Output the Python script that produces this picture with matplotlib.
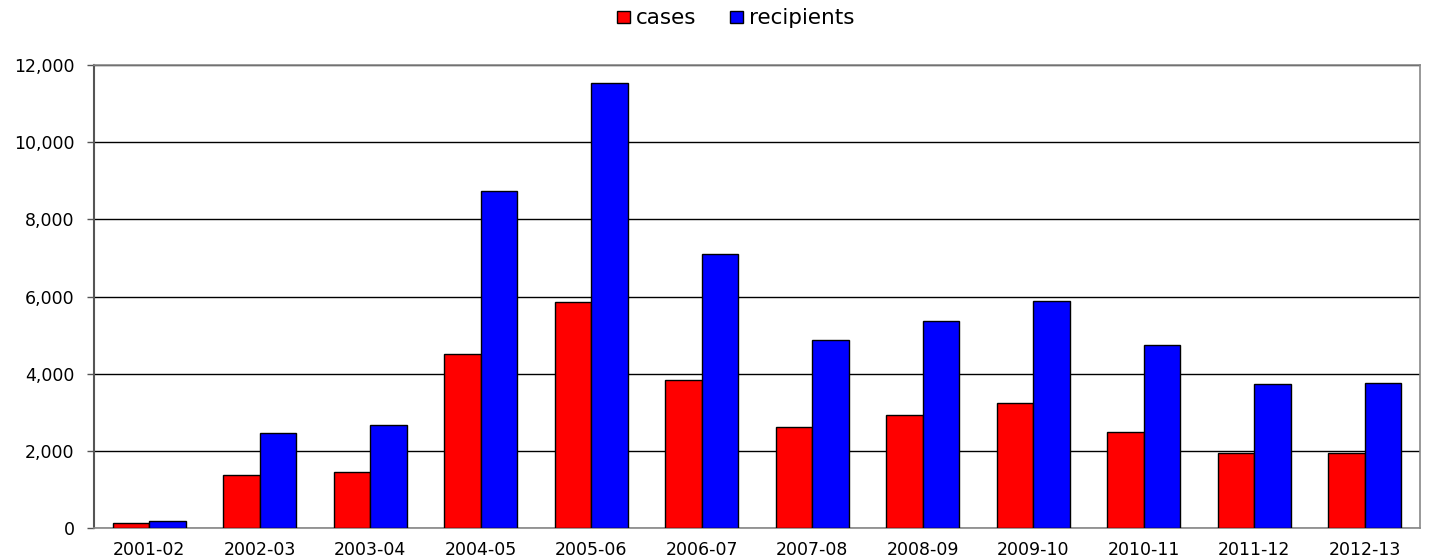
import matplotlib
matplotlib.use("Agg")
import matplotlib.pyplot as plt
import numpy as np
from matplotlib.ticker import FuncFormatter, MultipleLocator

years = ["2001-02", "2002-03", "2003-04", "2004-05", "2005-06", "2006-07",
         "2007-08", "2008-09", "2009-10", "2010-11", "2011-12", "2012-13"]
cases = [145, 1380, 1465, 4515, 5855, 3835, 2635, 2935, 3245, 2500, 1940, 1940]
recipients = [190, 2477, 2668, 8746, 11545, 7115, 4880, 5360, 5895, 4745, 3732, 3758]

plt.rcParams["font.family"] = ["DejaVu Sans"]

fig = plt.figure(figsize=(14.29, 5.6), dpi=100)
ax = fig.add_axes([0.0658, 0.0566, 0.9279, 0.8274])

x = np.arange(len(years))
w = 0.33
ax.bar(x - w / 2, cases, width=w, color="#ff0000", edgecolor="black",
       linewidth=1.0, label="cases", zorder=3)
ax.bar(x + w / 2, recipients, width=w, color="#0000ff", edgecolor="black",
       linewidth=1.0, label="recipients", zorder=3)

ax.set_xlim(-0.5, len(years) - 0.5)
ax.set_ylim(0, 12000)
ax.yaxis.set_major_locator(MultipleLocator(2000))
ax.yaxis.set_major_formatter(FuncFormatter(lambda v, p: f"{int(v):,}"))
ax.set_xticks(x)
ax.set_xticklabels(years)

ax.grid(axis="y", color="black", linewidth=1.0, zorder=0)
ax.set_axisbelow(True)

ax.tick_params(axis="x", length=0, pad=9, labelsize=12.5, colors="black")
ax.tick_params(axis="y", length=5, width=1.0, pad=9, labelsize=12.5,
               colors="black")
ax.tick_params(axis="y", color="#555555")

for side in ("top", "right", "bottom"):
    ax.spines[side].set_color("#888888")
    ax.spines[side].set_linewidth(1.2)
ax.spines["left"].set_color("#555555")
ax.spines["left"].set_linewidth(1.5)

fig.legend(loc="center", bbox_to_anchor=(0.515, 0.967), ncol=2, frameon=False,
           fontsize=15.5, handlelength=0.6, handleheight=0.5,
           handletextpad=0.3, columnspacing=1.55, borderaxespad=0)

fig.savefig("out.png", dpi=100)
